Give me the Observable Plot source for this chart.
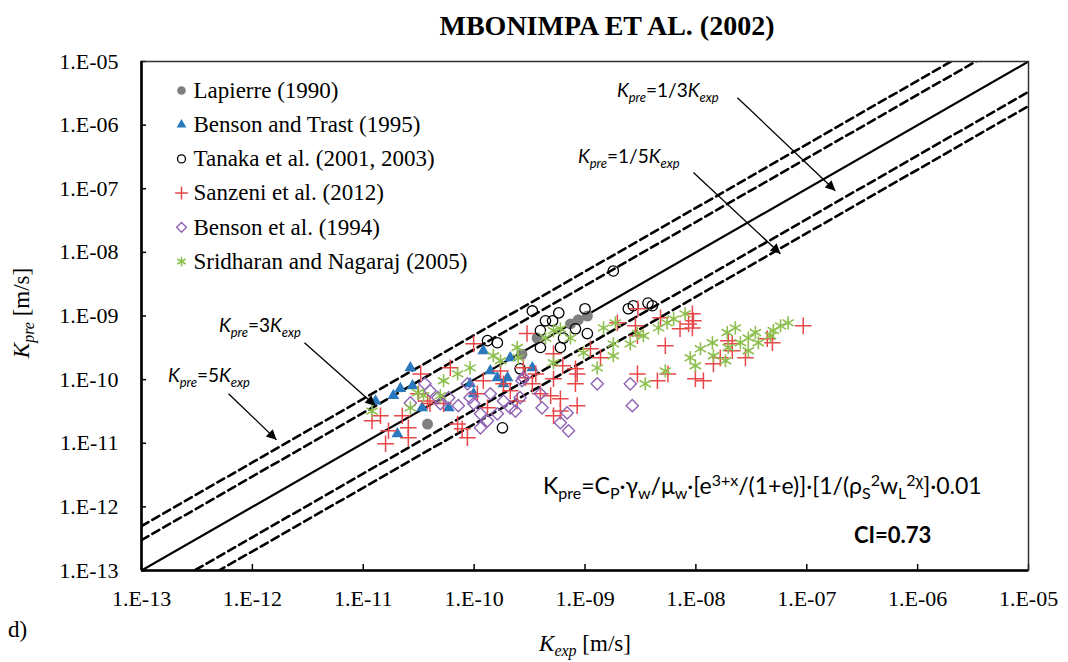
<!DOCTYPE html>
<html><head><meta charset="utf-8">
<script src="https://cdn.jsdelivr.net/npm/d3@7"></script>
<script src="https://cdn.jsdelivr.net/npm/@observablehq/plot@0.6"></script>
<style>
body{margin:0;background:#fff;}
#wrap{position:relative;width:1068px;height:662px;overflow:hidden;}
#wrap svg.ov{position:absolute;left:0;top:0;pointer-events:none;}
#wrap svg text{font-family:"Liberation Serif","Times New Roman",serif;}
#wrap svg.ov text.cal{font-family:Lato,sans-serif;}
</style></head><body><div id="wrap"></div>
<script>
// ---- data (Kexp [m/s], Kpre [m/s]) ----
const decadeTicks = [1e-13, 1e-12, 1e-11, 1e-10, 1e-9, 1e-8, 1e-7, 1e-6, 1e-5];
const seriesNames = ["Lapierre (1990)", "Benson and Trast (1995)", "Tanaka et al. (2001, 2003)", "Sanzeni et al. (2012)", "Benson et al. (1994)", "Sridharan and Nagaraj (2005)"];
const ratios = [5, 3, 1, 1/3, 1/5];
const axisRange = [1e-13, 1e-5];

const lapierre = [[3.8e-11,2.0e-11],[2.7e-10,2.5e-10],[3.7e-10,4.5e-10],[7.4e-10,7.5e-10],[8.7e-10,8.7e-10],[1.05e-9,1.0e-9]];
const bensonTrast = [[1.29e-11,4.6e-11],[1.87e-11,5.6e-11],[2.16e-11,7.2e-11],[2.66e-11,1.53e-10],[2.78e-11,8.0e-11],[2.03e-11,1.4e-11],[3.4e-11,3.6e-11],[5.9e-11,3.6e-11],[9.2e-11,8.6e-11],[9.9e-11,6.0e-11],[1.21e-10,2.84e-10],[1.40e-10,1.37e-10],[1.62e-10,1.07e-10],[2.0e-10,1.07e-10],[2.12e-10,2.2e-10],[1.84e-10,8.6e-11],[3.35e-10,1.53e-10]];
const tanaka = [[1.32e-10,4.1e-10],[1.62e-10,3.8e-10],[2.6e-10,1.48e-10],[1.80e-10,1.75e-11],[1.80e-9,5.1e-9],[3.35e-10,1.2e-9],[4.4e-10,8.4e-10],[5.1e-10,8.4e-10],[5.8e-10,1.12e-9],[1.0e-9,1.3e-9],[2.46e-9,1.3e-9],[2.73e-9,1.45e-9],[3.7e-9,1.6e-9],[4.05e-9,1.45e-9],[3.96e-10,5.9e-10],[6.4e-10,4.5e-10],[8.2e-10,6.3e-10],[1.05e-9,5.3e-10],[6.0e-10,3.2e-10],[3.96e-10,3.2e-10]];
const sanzeni = [[1.43e-11,2.7e-11],[1.20e-11,2.25e-11],[1.69e-11,1.57e-11],[1.59e-11,9.8e-12],[2.25e-11,2.7e-11],[2.55e-11,1.75e-11],[2.55e-11,1.22e-11],[3.3e-11,1.23e-10],[3.15e-11,6.0e-11],[3.8e-11,4.6e-11],[4.0e-11,4.2e-11],[5.3e-11,4.2e-11],[7.1e-11,2.0e-11],[7.8e-11,1.69e-11],[8.7e-11,1.22e-11],[1.07e-10,6.0e-11],[1.21e-10,9.6e-11],[1.32e-10,3.6e-11],[1.73e-10,1.37e-10],[1.84e-10,8.6e-11],[2.12e-10,6.7e-11],[2.45e-10,4.6e-11],[2.9e-10,1.07e-10],[9.9e-11,3.65e-10],[6.1e-11,1.53e-10],[3.0e-10,5.3e-10],[1.96e-9,7.8e-10],[3.0e-9,1.3e-9],[4.8e-9,9.4e-10],[2.85e-9,7.0e-10],[2.97e-9,4.9e-10],[1.12e-9,3.05e-10],[1.38e-9,2.2e-10],[5.2e-10,2.55e-10],[6.3e-10,1.65e-10],[8.2e-10,1.48e-10],[8.5e-10,1.23e-10],[8.2e-10,8.6e-11],[5.2e-10,1.03e-10],[3.6e-10,1.23e-10],[3.35e-10,8.6e-11],[3.96e-10,6.0e-11],[4.9e-10,5.6e-11],[6.0e-10,5.0e-11],[5.2e-10,2.7e-11],[8.5e-10,3.9e-11],[6.0e-10,3.2e-11],[2.97e-9,1.23e-10],[4.5e-9,9.6e-11],[5.3e-9,3.4e-10],[7.2e-9,6.3e-10],[8.6e-9,7.5e-10],[9.5e-9,8.4e-10],[9.3e-9,6.5e-10],[9.9e-9,1.03e-10],[1.17e-8,9.6e-11],[1.44e-8,1.77e-10],[2.78e-10,1.53e-10],[9.3e-9,1.08e-9],[5.6e-9,1.23e-10],[1.66e-8,2.2e-10],[1.96e-8,4.1e-10],[2.13e-8,3.65e-10],[2.13e-8,2.84e-10],[2.8e-8,2.2e-10],[4.4e-8,4.4e-10],[4.9e-8,3.8e-10],[9.3e-8,7.0e-10]];
const benson94 = [[2.66e-11,4.3e-11],[3.6e-11,8.6e-11],[4.0e-11,6.7e-11],[4.7e-11,5.2e-11],[5.9e-11,5.2e-11],[4.96e-11,4.2e-11],[7.2e-11,3.9e-11],[8.7e-11,8.6e-11],[9.2e-11,5.2e-11],[9.9e-11,4.2e-11],[1.14e-10,2.9e-11],[1.32e-10,2.25e-11],[1.14e-10,1.75e-11],[1.40e-10,6.0e-11],[1.84e-10,4.6e-11],[2.12e-10,3.6e-11],[2.36e-10,3.2e-11],[2.6e-10,5.2e-11],[2.7e-10,9.6e-11],[1.62e-10,2.9e-11],[1.29e-9,8.6e-11],[2.56e-9,8.6e-11],[2.67e-9,3.9e-11],[4.1e-10,3.6e-11],[6.0e-10,2.1e-11],[7.1e-10,1.57e-11],[6.9e-10,3.0e-11],[3.96e-10,6.0e-11],[2.78e-10,1.07e-10]];
const sridharan = [[1.20e-11,3.2e-11],[2.66e-11,3.6e-11],[3.1e-11,6.2e-11],[3.5e-11,5.6e-11],[5.3e-11,9.6e-11],[4.96e-11,5.6e-11],[7.1e-11,1.23e-10],[9.2e-11,1.53e-10],[1.49e-10,2.37e-10],[1.73e-10,1.98e-10],[2.45e-10,3.2e-10],[2.5e-10,2.2e-10],[5.2e-10,5.9e-10],[6.0e-10,6.3e-10],[4.4e-10,4.5e-10],[7.4e-10,4.5e-10],[1.47e-9,6.5e-10],[1.88e-9,7.8e-10],[9.7e-10,2.64e-10],[1.80e-9,3.65e-10],[1.80e-9,2.37e-10],[1.29e-9,1.53e-10],[5.2e-10,1.84e-10],[2.56e-9,3.65e-10],[2.97e-9,5.3e-10],[3.36e-9,4.9e-10],[4.6e-9,6.5e-10],[5.5e-9,7.8e-10],[6.3e-9,9.0e-10],[8.0e-9,1.08e-9],[5.3e-9,1.37e-10],[3.5e-9,8.6e-11],[1.10e-8,3.05e-10],[1.41e-8,3.8e-10],[8.9e-9,2.2e-10],[9.9e-9,1.65e-10],[1.44e-8,2.37e-10],[1.85e-8,1.98e-10],[1.92e-8,5.5e-10],[2.27e-8,6.5e-10],[1.96e-8,3.2e-10],[2.52e-8,3.8e-10],[2.97e-8,4.5e-10],[3.44e-8,5.5e-10],[3.66e-8,3.8e-10],[2.97e-8,2.84e-10],[5.0e-8,5.9e-10],[5.8e-8,7.0e-10],[6.8e-8,7.8e-10],[4.7e-8,4.9e-10]];

// annotation arrows (from label to line), in data units
const annotationArrows = [
  {x1: 2.37e-8, y1: 2.7e-6, x2: 1.81e-7, y2: 9.3e-8},
  {x1: 9.5e-9, y1: 1.8e-7, x2: 5.8e-8, y2: 9.5e-9},
  {x1: 2.95e-12, y1: 3.8e-10, x2: 1.29e-11, y2: 3.9e-11},
  {x1: 6.1e-13, y1: 6.0e-11, x2: 1.65e-12, y2: 1.13e-11}
];

// ---- styles ----
const W = 1068, H = 662, mL = 141, mR = 40, mT = 61, mB = 92;
const fw = W - mL - mR, fh = H - mT - mB;
const serif = "Liberation Serif";
const styles = [
  {symbol: "circle", r: 5.5, fill: "#7f7f7f", stroke: "none", sw: 0, lr: 4.3},
  {symbol: "triangle", r: 4.4, fill: "#2a79bd", stroke: "none", sw: 0, lr: 3.6},
  {symbol: "circle", r: 5.2, fill: "none", stroke: "#000", sw: 1.3, lr: 4},
  {symbol: "plus", r: 5.4, fill: "none", stroke: "#e8474a", sw: 1.5, lr: 4.2},
  {symbol: "diamond2", r: 5.5, fill: "none", stroke: "#8e63b5", sw: 1.4, lr: 4.4},
  {symbol: "asterisk", r: 6.2, fill: "none", stroke: "#8dbf4e", sw: 1.6, lr: 4.6}
];
const seriesData = [lapierre, bensonTrast, tanaka, sanzeni, benson94, sridharan];
const expLabel = d => "1.E-" + String(Math.round(-Math.log10(d))).padStart(2, "0");
const ratioLines = ratios.flatMap(r => axisRange.map(x => ({r, x, y: r * x})));

const marks = [
  Plot.line(ratioLines.filter(d => d.r !== 1), {x: "x", y: "y", z: "r", stroke: "#000", strokeWidth: 2.6, strokeDasharray: "8,4.5", clip: true}),
  Plot.line(ratioLines.filter(d => d.r === 1), {x: "x", y: "y", stroke: "#000", strokeWidth: 2.2, clip: true}),
  Plot.tickX(decadeTicks, {x: d => d, insetTop: fh - 6, stroke: "#000", strokeWidth: 1.5}),
  Plot.tickY(decadeTicks, {y: d => d, insetRight: fw - 5, stroke: "#000", strokeWidth: 1.5}),
  Plot.axisX({ticks: decadeTicks, tickFormat: expLabel, tickSize: 0, tickPadding: 20, fontSize: 22, fontFamily: serif, label: null}),
  Plot.axisY({ticks: decadeTicks, tickFormat: expLabel, tickSize: 0, tickPadding: 23, fontSize: 22, fontFamily: serif, label: null}),
  Plot.frame({stroke: "#333", strokeWidth: 1.5}),
  Plot.ruleX([axisRange[0]], {stroke: "#000", strokeWidth: 2.6}),
  Plot.ruleY([axisRange[0]], {stroke: "#000", strokeWidth: 2.6}),
  ...seriesData.map((data, i) => Plot.dot(data, {x: d => d[0], y: d => d[1], symbol: styles[i].symbol, r: styles[i].r, fill: styles[i].fill, stroke: styles[i].stroke, strokeWidth: styles[i].sw})),
  Plot.link(annotationArrows, {x1: "x1", y1: "y1", x2: "x2", y2: "y2", stroke: "#000", strokeWidth: 1.3}),
  ...seriesNames.flatMap((name, i) => [
    Plot.dot([name], {frameAnchor: "top-left", dx: 40, dy: 29 + i * 34.2, symbol: styles[i].symbol, r: styles[i].lr, fill: styles[i].fill, stroke: styles[i].stroke, strokeWidth: styles[i].sw}),
    Plot.text([name], {frameAnchor: "top-left", dx: 52, dy: 29 + i * 34.2, text: d => d, textAnchor: "start", lineAnchor: "middle", fontSize: 23, fontFamily: serif, fill: "#000"})
  ])
];

const svg = Plot.plot({
  width: W, height: H,
  marginLeft: mL, marginRight: mR, marginTop: mT, marginBottom: mB,
  style: {fontFamily: serif, color: "#000", background: "#fff", overflow: "visible"},
  x: {type: "log", domain: axisRange},
  y: {type: "log", domain: axisRange},
  marks
});
const ns = "http://www.w3.org/2000/svg";
const defs = document.createElementNS(ns, "defs");
defs.innerHTML = '<marker id="ah" viewBox="0 0 10 10" refX="10" refY="5" markerWidth="14" markerHeight="10" markerUnits="userSpaceOnUse" orient="auto"><path d="M0,0L10,5L0,10z" fill="#000"/></marker>';
svg.insertBefore(defs, svg.firstChild);
svg.querySelectorAll('g[aria-label="link"] path').forEach(p => p.setAttribute("marker-end", "url(#ah)"));
document.getElementById("wrap").appendChild(svg);

// ---- overlay text ----
const lab = (x, y, mid) => `<text class="cal" x="${x}" y="${y}" font-size="19"><tspan font-style="italic">K</tspan><tspan font-style="italic" font-size="13" dy="5">pre</tspan><tspan dy="-5">=${mid}</tspan><tspan font-style="italic">K</tspan><tspan font-style="italic" font-size="13" dy="5">exp</tspan></text>`;
const ov = `<svg class="ov" xmlns="${ns}" width="${W}" height="${H}">
<text x="607" y="35" text-anchor="middle" font-weight="bold" font-size="28">MBONIMPA ET AL. (2002)</text>
<text transform="translate(29,313) rotate(-90)" text-anchor="middle" font-size="23"><tspan font-style="italic">K</tspan><tspan font-style="italic" font-size="16" dy="5">pre</tspan><tspan dy="-5"> [m/s]</tspan></text>
<text x="585" y="651" text-anchor="middle" font-size="23"><tspan font-style="italic">K</tspan><tspan font-style="italic" font-size="16" dy="5">exp</tspan><tspan dy="-5"> [m/s]</tspan></text>
<text x="8" y="637" font-size="23">d)</text>
${lab(617, 97, "1/3")}
${lab(578, 163, "1/5")}
${lab(219, 332, "3")}
${lab(168, 382, "5")}
<text class="cal" x="543" y="494" font-size="23">K<tspan font-size="16" dy="5">pre</tspan><tspan dy="-5">=C</tspan><tspan font-size="16" dy="5">P</tspan><tspan dy="-5">·γ</tspan><tspan font-size="16" dy="5">w</tspan><tspan dy="-5">/μ</tspan><tspan font-size="16" dy="5">w</tspan><tspan dy="-5">·[e</tspan><tspan font-size="16" dy="-8">3+x</tspan><tspan dy="8">/(1+e)]·[1/(ρ</tspan><tspan font-size="16" dy="5">S</tspan><tspan font-size="16" dy="-13">2</tspan><tspan dy="8">w</tspan><tspan font-size="16" dy="5">L</tspan><tspan font-size="16" dy="-13">2χ</tspan><tspan dy="8">]·0.01</tspan></text>
<text class="cal" x="854" y="543" font-weight="bold" font-size="22">CI=0.73</text>
</svg>`;
document.getElementById("wrap").insertAdjacentHTML("beforeend", ov);
</script></body></html>
